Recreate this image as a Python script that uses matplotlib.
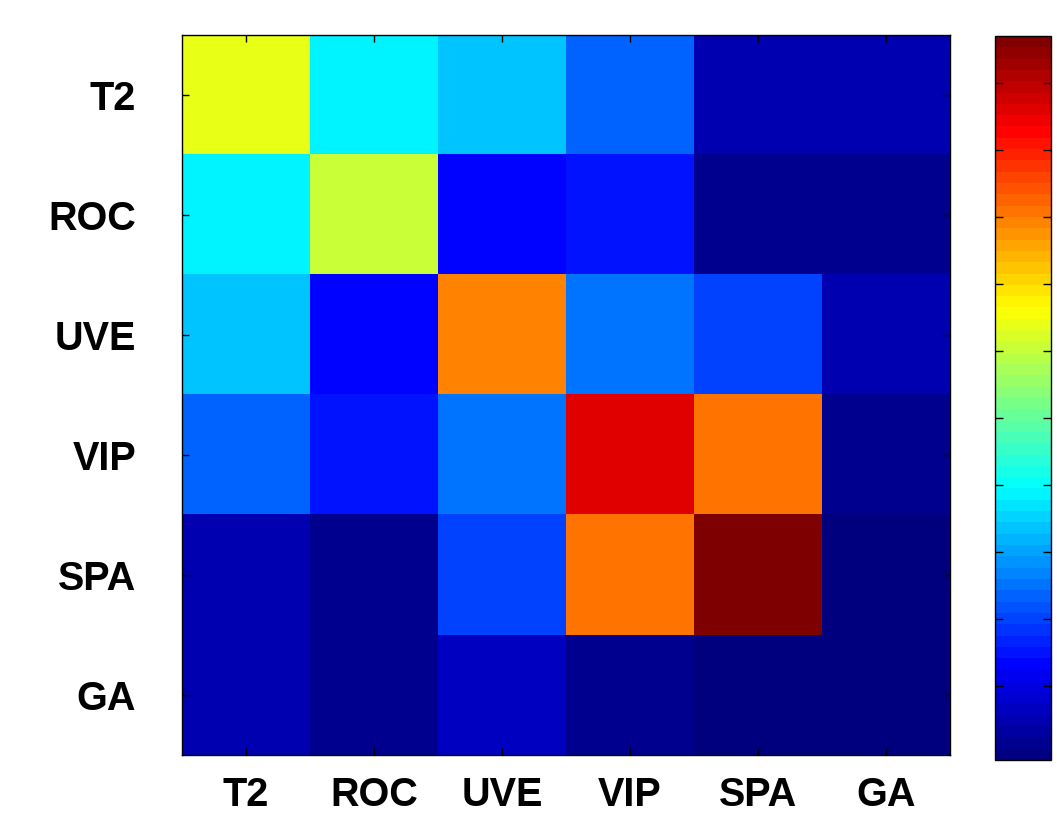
import numpy as np
import matplotlib.pyplot as plt
from matplotlib.colors import ListedColormap

plt.rcParams['font.family'] = ['Liberation Sans', 'DejaVu Sans']

names = ['T2', 'ROC', 'UVE', 'VIP', 'SPA', 'GA']

# similarity values (colour scale -0.1 .. 10.7)
row_T2 = [6.33, 3.79, 3.41, 2.33, 0.52, 0.52]
row_ROC = [3.79, 6.05, 1.41, 1.58, 0.17, 0.17]
row_UVE = [3.41, 1.41, 7.85, 2.44, 2.09, 0.52]
row_VIP = [2.33, 1.58, 2.44, 9.67, 8.1, 0.17]
row_SPA = [0.52, 0.17, 2.09, 8.1, 10.7, -0.02]
row_GA = [0.52, 0.17, 0.66, 0.17, -0.02, -0.1]

cbar_ticks = [1, 2, 3, 4, 5, 6, 7, 8, 9, 10]

M = np.array([row_T2, row_ROC, row_UVE, row_VIP, row_SPA, row_GA])

# MATLAB style jet(64)
t = np.linspace(0, 1, 64)
r = np.clip(1.5 - np.abs(4 * t - 3), 0, 1)
g = np.clip(1.5 - np.abs(4 * t - 2), 0, 1)
b = np.clip(1.5 - np.abs(4 * t - 1), 0, 1)
cmap = ListedColormap(np.column_stack([r, g, b]))

fig = plt.figure(figsize=(10.57, 8.18), dpi=100)
ax = fig.add_axes([0.1722, 0.0770, 0.7266, 0.8802])
cax = fig.add_axes([0.9413, 0.0709, 0.0530, 0.8851])

im = ax.imshow(M, cmap=cmap, vmin=-0.1, vmax=10.7, aspect='auto',
               interpolation='nearest')

ax.set_xticks(range(len(names)))
ax.set_yticks(range(len(names)))
ax.set_xticklabels(names, fontsize=28.5, fontweight='bold')
ax.set_yticklabels(names, fontsize=28.5, fontweight='bold')
ax.tick_params(direction='in', length=5, width=1, top=True, right=True,
               pad=15)
ax.tick_params(axis='y', pad=33)
for s in ax.spines.values():
    s.set_linewidth(1)

cb = fig.colorbar(im, cax=cax)
cb.set_ticks(cbar_ticks)
cb.set_ticklabels([])
cax.tick_params(direction='in', length=6, width=1, left=True, right=True)
cb.outline.set_linewidth(1)

plt.savefig('out.png', dpi=100)
